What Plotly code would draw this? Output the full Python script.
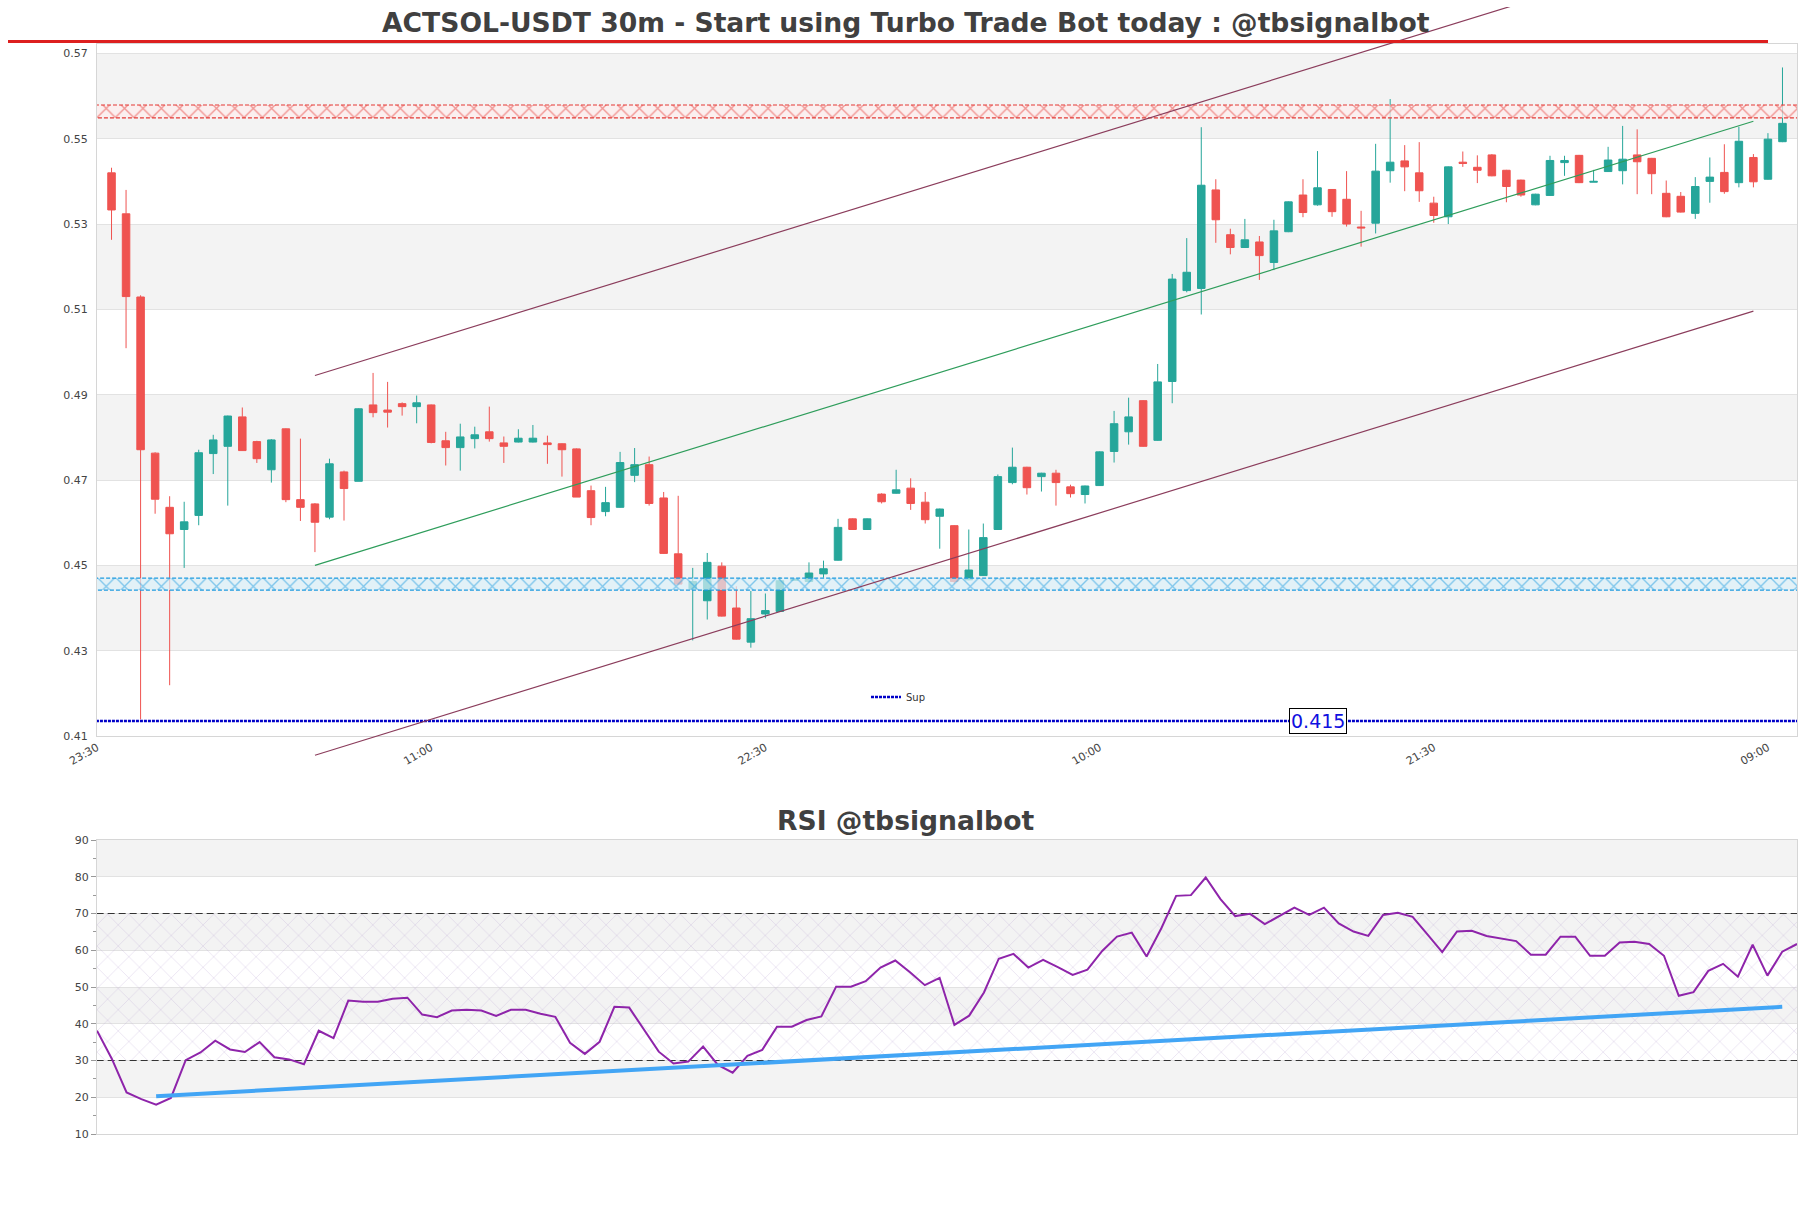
import pandas as pd
import plotly.graph_objects as go

# ---------------- data ----------------
start_time = "2024-06-10 00:00"

opens = [0.5420, 0.5324, 0.5129, 0.4763, 0.4636, 0.4584, 0.4617, 0.4762, 0.4779, 0.4848,
         0.4790, 0.4724, 0.4820, 0.4654, 0.4644, 0.4613, 0.4719, 0.4697, 0.4876, 0.4864,
         0.4879, 0.4872, 0.4876, 0.4792, 0.4776, 0.4797, 0.4813, 0.4787, 0.4789, 0.4789,
         0.4787, 0.4785, 0.4773, 0.4675, 0.4626, 0.4636, 0.4711, 0.4736, 0.4658, 0.4527,
         0.4445, 0.4417, 0.4498, 0.4400, 0.4320, 0.4386, 0.4392, 0.4465, 0.4462, 0.4480,
         0.4512, 0.4609, 0.4584, 0.4667, 0.4669, 0.4681, 0.4648, 0.4615, 0.4593, 0.4466,
         0.4476, 0.4584, 0.4694, 0.4730, 0.4708, 0.4716, 0.4684, 0.4666, 0.4687, 0.4767,
         0.4813, 0.4886, 0.4793, 0.4931, 0.5144, 0.5149, 0.5380, 0.5275, 0.5245, 0.5258,
         0.5210, 0.5282, 0.5368, 0.5345, 0.5381, 0.5358, 0.5293, 0.5302, 0.5425, 0.5448,
         0.5420, 0.5349, 0.5317, 0.5445, 0.5433, 0.5462, 0.5426, 0.5403, 0.5345, 0.5367,
         0.5444, 0.5461, 0.5398, 0.5423, 0.5425, 0.5462, 0.5454, 0.5372, 0.5365, 0.5325,
         0.5400, 0.5421, 0.5397, 0.5456, 0.5405, 0.5493]
highs = [0.5432, 0.5380, 0.5133, 0.4765, 0.4662, 0.4649, 0.4771, 0.4806, 0.4851, 0.4870,
         0.4792, 0.4796, 0.4821, 0.4797, 0.4646, 0.4750, 0.4722, 0.4868, 0.4951, 0.4930,
         0.4882, 0.4898, 0.4877, 0.4813, 0.4832, 0.4825, 0.4872, 0.4802, 0.4819, 0.4829,
         0.4804, 0.4786, 0.4774, 0.4687, 0.4684, 0.4766, 0.4775, 0.4755, 0.4672, 0.4663,
         0.4494, 0.4529, 0.4507, 0.4451, 0.4440, 0.4434, 0.4472, 0.4467, 0.4507, 0.4511,
         0.4609, 0.4610, 0.4610, 0.4669, 0.4724, 0.4704, 0.4672, 0.4633, 0.4594, 0.4584,
         0.4598, 0.4713, 0.4776, 0.4731, 0.4717, 0.4724, 0.4689, 0.4687, 0.4767, 0.4862,
         0.4893, 0.4887, 0.4972, 0.5183, 0.5267, 0.5527, 0.5405, 0.5289, 0.5312, 0.5272,
         0.5310, 0.5353, 0.5405, 0.5471, 0.5382, 0.5424, 0.5331, 0.5488, 0.5593, 0.5485,
         0.5492, 0.5364, 0.5435, 0.5470, 0.5461, 0.5464, 0.5427, 0.5404, 0.5371, 0.5460,
         0.5460, 0.5462, 0.5427, 0.5481, 0.5530, 0.5522, 0.5455, 0.5402, 0.5375, 0.5410,
         0.5456, 0.5487, 0.5528, 0.5464, 0.5513, 0.5667]
lows = [0.5263, 0.5009, 0.4139, 0.4621, 0.4219, 0.4494, 0.4594, 0.4714, 0.4640, 0.4768,
        0.4740, 0.4694, 0.4648, 0.4604, 0.4531, 0.4608, 0.4605, 0.4697, 0.4847, 0.4823,
        0.4851, 0.4833, 0.4786, 0.4734, 0.4722, 0.4774, 0.4790, 0.4740, 0.4788, 0.4788,
        0.4738, 0.4708, 0.4660, 0.4594, 0.4615, 0.4635, 0.4695, 0.4640, 0.4527, 0.4455,
        0.4324, 0.4373, 0.4380, 0.4326, 0.4307, 0.4376, 0.4391, 0.4465, 0.4460, 0.4471,
        0.4511, 0.4583, 0.4583, 0.4645, 0.4668, 0.4630, 0.4598, 0.4539, 0.4457, 0.4465,
        0.4475, 0.4583, 0.4690, 0.4666, 0.4673, 0.4640, 0.4659, 0.4645, 0.4686, 0.4741,
        0.4783, 0.4778, 0.4792, 0.4880, 0.5140, 0.5088, 0.5256, 0.5229, 0.5244, 0.5169,
        0.5192, 0.5281, 0.5316, 0.5343, 0.5317, 0.5294, 0.5247, 0.5278, 0.5397, 0.5377,
        0.5352, 0.5303, 0.5300, 0.5434, 0.5396, 0.5412, 0.5351, 0.5364, 0.5344, 0.5366,
        0.5413, 0.5396, 0.5398, 0.5422, 0.5393, 0.5370, 0.5370, 0.5316, 0.5327, 0.5312,
        0.5350, 0.5371, 0.5386, 0.5386, 0.5404, 0.5492]
closes = [0.5333, 0.5130, 0.4771, 0.4655, 0.4574, 0.4602, 0.4764, 0.4794, 0.4850, 0.4769,
          0.4750, 0.4794, 0.4654, 0.4636, 0.4601, 0.4738, 0.4680, 0.4867, 0.4858, 0.4859,
          0.4872, 0.4881, 0.4788, 0.4776, 0.4801, 0.4806, 0.4797, 0.4779, 0.4798, 0.4798,
          0.4783, 0.4771, 0.4660, 0.4612, 0.4647, 0.4741, 0.4736, 0.4645, 0.4528, 0.4456,
          0.4462, 0.4507, 0.4381, 0.4327, 0.4375, 0.4394, 0.4464, 0.4467, 0.4482, 0.4492,
          0.4589, 0.4584, 0.4609, 0.4649, 0.4677, 0.4645, 0.4607, 0.4632, 0.4462, 0.4489,
          0.4565, 0.4708, 0.4730, 0.4682, 0.4716, 0.4694, 0.4668, 0.4686, 0.4766, 0.4832,
          0.4848, 0.4779, 0.4930, 0.5171, 0.5187, 0.5391, 0.5310, 0.5245, 0.5263, 0.5226,
          0.5284, 0.5352, 0.5327, 0.5385, 0.5329, 0.5300, 0.5291, 0.5424, 0.5445, 0.5434,
          0.5378, 0.5320, 0.5434, 0.5442, 0.5426, 0.5413, 0.5388, 0.5368, 0.5370, 0.5449,
          0.5449, 0.5397, 0.5400, 0.5450, 0.5452, 0.5446, 0.5418, 0.5317, 0.5328, 0.5388,
          0.5410, 0.5376, 0.5494, 0.5399, 0.5499, 0.5536]

rsi_values = [38.1, 30.5, 21.3, 19.5, 18.0, 19.8, 30.1, 32.2, 35.4, 33.0,
              32.3, 35.0, 30.9, 30.3, 29.0, 38.1, 36.1, 46.3, 46.0, 46.0,
              46.8, 47.1, 42.5, 41.8, 43.6, 43.8, 43.6, 42.1, 43.8, 43.8,
              42.7, 41.9, 34.8, 31.8, 35.1, 44.6, 44.4, 38.3, 32.4, 29.2,
              29.7, 33.8, 28.8, 26.7, 31.3, 32.9, 39.2, 39.2, 41.0, 42.0,
              50.1, 50.1, 51.6, 55.3, 57.2, 54.0, 50.5, 52.5, 39.7, 42.2,
              48.5, 57.7, 59.0, 55.3, 57.4, 55.4, 53.3, 54.7, 59.8, 63.7,
              64.8, 58.3, 66.0, 74.8, 75.0, 79.8, 73.9, 69.3, 69.9, 67.1,
              69.4, 71.6, 69.6, 71.6, 67.3, 65.1, 63.9, 69.6, 70.2, 69.1,
              64.3, 59.5, 65.1, 65.3, 63.9, 63.1, 62.5, 58.8, 58.8, 63.7,
              63.7, 58.5, 58.5, 62.1, 62.3, 61.7, 58.5, 47.6, 48.6, 54.4,
              56.3, 52.8, 61.5, 53.1, 59.6, 61.7]

# horizontal zones / levels
resistance_zone = [0.5549, 0.5579]
support_zone = [0.4442, 0.4470]
sup_level = 0.4135
sup_label = "0.415"

# price channel (candle index, mid value), offset of the outer lines
channel_idx = [14, 113]
channel_mid = [0.4500, 0.5541]
channel_offset = 0.0445

# RSI trend line (rsi index, value)
rsi_trend_idx = [4, 114]
rsi_trend_val = [20.3, 44.6]
rsi_levels = [30, 70]

title_text = "ACTSOL-USDT 30m - Start using Turbo Trade Bot today : @tbsignalbot"
rsi_title = "RSI @tbsignalbot"

# ---------------- layout geometry ----------------
W, H = 1811, 1208
FONT = "DejaVu Sans"
UP, DOWN = "#26a69a", "#ef5350"

def fx(p):
    return p / W

def fy(p):
    return 1 - p / H

main_l, main_r = 97, 1797
main_t, main_b = 44, 736
rsi_t, rsi_b = 840, 1134
y_range = [0.41, 0.5722]
rsi_range = [10, 90]

step = pd.Timedelta("30min")
times = pd.date_range(start_time, periods=len(opens), freq="30min")
x_range = [times[0] - step, times[0] + len(opens) * step]
far_x = [times[0] - 3 * step, times[-1] + 3 * step]

# overlay axis for channel lines that run past the plot box
ov_top, ov_bot = 7, 772
scale = (y_range[1] - y_range[0]) / (main_b - main_t)
ov_range = [y_range[0] - (ov_bot - main_b) * scale, y_range[1] + (main_t - ov_top) * scale]

fig = go.Figure()

def zone_trace(lo, hi, xs, line_color, fg, bg, size, solidity, xa="x", ya="y", dash="dash", lw=1.2):
    return go.Scatter(
        x=[xs[0], xs[1], xs[1], xs[0], xs[0]], y=[lo, lo, hi, hi, lo],
        xaxis=xa, yaxis=ya, mode="lines", fill="toself",
        fillcolor=bg,
        fillpattern=dict(shape="x", fgcolor=fg, bgcolor=bg, size=size, solidity=solidity),
        line=dict(color=line_color, width=lw, dash=dash),
        hoverinfo="skip", showlegend=False)

# resistance / support zones
fig.add_trace(zone_trace(resistance_zone[0], resistance_zone[1], far_x, "#e53935", "#e53935",
                         "rgba(255,238,238,0.7)", 13, 0.2, dash="4px,2px"))
fig.add_trace(zone_trace(support_zone[0], support_zone[1], far_x, "#1e9be0", "#1e9be0",
                         "rgba(220,242,250,0.7)", 13, 0.2, dash="4px,2px"))

# support level line
fig.add_trace(go.Scatter(x=far_x, y=[sup_level, sup_level], mode="lines", name="Sup",
                         line=dict(color="#0000c8", width=2.5, dash="3px,1px"),
                         hoverinfo="skip", showlegend=True))

# candles
fig.add_trace(go.Candlestick(
    x=times, open=opens, high=highs, low=lows, close=closes,
    increasing=dict(line=dict(color=UP, width=1), fillcolor=UP),
    decreasing=dict(line=dict(color=DOWN, width=1), fillcolor=DOWN),
    whiskerwidth=0, showlegend=False, hoverinfo="skip"))

# channel lines on overlay axes
ch_x = [times[i] for i in channel_idx]
for off, col, w in [(channel_offset, "#8b3d5c", 1.2), (0.0, "#2e9d5b", 1.2), (-channel_offset, "#8b3d5c", 1.2)]:
    fig.add_trace(go.Scatter(x=ch_x, y=[v + off for v in channel_mid], xaxis="x3", yaxis="y3",
                             mode="lines", line=dict(color=col, width=w),
                             hoverinfo="skip", showlegend=False))

# RSI panel
rsi_x = [times[0], times[-1]]
fig.add_trace(zone_trace(rsi_levels[0], rsi_levels[1], far_x, "rgba(0,0,0,0)",
                         "rgba(170,140,200,0.55)", "rgba(0,0,0,0)", 15, 0.1,
                         xa="x2", ya="y2", dash="solid", lw=0))
for lv in rsi_levels:
    fig.add_trace(go.Scatter(x=far_x, y=[lv, lv], xaxis="x2", yaxis="y2", mode="lines",
                             line=dict(color="#333333", width=1.2, dash="7px,4px"),
                             hoverinfo="skip", showlegend=False))
fig.add_trace(go.Scatter(x=times, y=rsi_values, xaxis="x2", yaxis="y2", mode="lines",
                         line=dict(color="#8e24aa", width=2), hoverinfo="skip", showlegend=False))
fig.add_trace(go.Scatter(x=[times[i] for i in rsi_trend_idx], y=rsi_trend_val, xaxis="x2", yaxis="y2",
                         mode="lines", line=dict(color="#42a5f5", width=4),
                         hoverinfo="skip", showlegend=False))

# alternating background bands
shapes = []
main_ticks = [round(y_range[0] + 0.02 * k, 2) for k in range(9)]
for k in range(1, len(main_ticks) - 1, 2):
    shapes.append(dict(type="rect", xref="x domain", yref="y", x0=0, x1=1,
                       y0=main_ticks[k], y1=main_ticks[k + 1],
                       fillcolor="#f3f3f3", line=dict(width=0), layer="below"))
rsi_ticks = list(range(10, 91, 10))
for k in range(1, len(rsi_ticks) - 1, 2):
    shapes.append(dict(type="rect", xref="x2 domain", yref="y2", x0=0, x1=1,
                       y0=rsi_ticks[k], y1=rsi_ticks[k + 1],
                       fillcolor="#f3f3f3", line=dict(width=0), layer="below"))
# red rule under title
shapes.append(dict(type="line", xref="paper", yref="paper", x0=fx(8), x1=fx(1768),
                   y0=fy(41.5), y1=fy(41.5), line=dict(color="#dd1f1f", width=3)))

axis_common = dict(showline=True, mirror=True, linecolor="#d6d6d6", linewidth=1, zeroline=False,
                   automargin=False,
                   tickfont=dict(family=FONT, size=11, color="#444444"))

fig.update_layout(
    width=W, height=H, margin=dict(l=0, r=0, t=0, b=0, pad=0, autoexpand=False),
    paper_bgcolor="white", plot_bgcolor="rgba(0,0,0,0)",
    font=dict(family=FONT, color="#444444"),
    boxgap=0.26,
    shapes=shapes,
    xaxis=dict(domain=[fx(main_l), fx(main_r)], anchor="y", type="date", range=x_range,
               rangeslider=dict(visible=False), showgrid=False,
               tick0=times[0] - step, dtick=23 * 30 * 60 * 1000, tickformat="%H:%M",
               tickangle=-30, ticks="", **axis_common),
    yaxis=dict(domain=[fy(main_b), fy(main_t)], anchor="x", range=y_range,
               tick0=y_range[0], dtick=0.02, tickformat=".2f", showgrid=True,
               gridcolor="#e2e2e2", gridwidth=1, ticks="", ticklabelstandoff=6, **axis_common),
    xaxis2=dict(domain=[fx(main_l), fx(main_r)], anchor="y2", type="date", range=rsi_x,
                showgrid=False, showticklabels=False, ticks="", **axis_common),
    yaxis2=dict(domain=[fy(rsi_b), fy(rsi_t)], anchor="x2", range=rsi_range, dtick=10,
                showgrid=True, gridcolor="#e2e2e2", ticks="outside", ticklen=5, tickcolor="#999999",
                minor=dict(dtick=5, ticks="outside", ticklen=3, tickcolor="#999999", showgrid=False),
                **axis_common),
    xaxis3=dict(domain=[fx(main_l), fx(main_r)], anchor="y3", type="date", range=x_range,
                visible=False, automargin=False),
    yaxis3=dict(domain=[fy(ov_bot), fy(ov_top)], anchor="x3", range=ov_range, visible=False,
                automargin=False),
    legend=dict(x=fx(866), y=fy(697), xanchor="left", yanchor="middle",
                bgcolor="rgba(0,0,0,0)", font=dict(family=FONT, size=10, color="#333333"),
                itemwidth=30),
    annotations=[
        dict(text=f"<b>{title_text}</b>", xref="paper", yref="paper", x=0.5, y=fy(22),
             xanchor="center", yanchor="middle", showarrow=False,
             font=dict(family=FONT, size=26.6, color="#404040")),
        dict(text=f"<b>{rsi_title}</b>", xref="paper", yref="paper", x=0.5, y=fy(820),
             xanchor="center", yanchor="middle", showarrow=False,
             font=dict(family=FONT, size=26.6, color="#404040")),
        dict(text=sup_label, xref="x", yref="y", x=times[83], y=sup_level,
             xanchor="center", yanchor="middle", showarrow=False,
             font=dict(family=FONT, size=19, color="#1010e0"),
             bgcolor="white", bordercolor="black", borderwidth=1, borderpad=1),
    ],
)

fig.write_html("out.html", config={"displayModeBar": False},
               post_script="document.body.style.margin='0';document.body.style.overflow='hidden';")
